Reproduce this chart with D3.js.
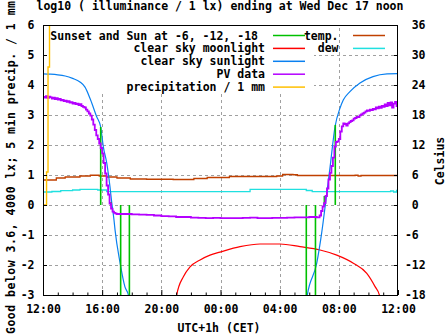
<!DOCTYPE html>
<html>
<head>
<meta charset="utf-8">
<script src="https://cdn.jsdelivr.net/npm/d3@7"></script>
<style>
  html, body { margin: 0; padding: 0; background: #fff; }
  svg { display: block; }
  text { font-family: "DejaVu Sans Mono", monospace; font-weight: bold; font-size: 11.5px; fill: #000; }
</style>
</head>
<body>
<svg id="chart" width="447" height="335"></svg>
<script>
// ---------- data (hours after 12:00 noon) ----------
const hourTicks = [0, 4, 8, 12, 16, 20, 24];
const hourLabels = ["12:00", "16:00", "20:00", "00:00", "04:00", "08:00", "12:00"];
const minorHours = [1,2,3,5,6,7,9,10,11,13,14,15,17,18,19,21,22,23];
const leftTicks = [-3, -2, -1, 0, 1, 2, 3, 4, 5, 6];
const rightTicks = [-18, -12, -6, 0, 6, 12, 18, 24, 30, 36];

// clear sky sunlight, log10 lx
const sunlight = [[0,4.37],[0.5,4.36],[1.0,4.34],[1.5,4.30],[2.0,4.22],[2.5,4.10],[2.84,3.93],[3.22,3.50],[3.63,2.94],[3.90,2.60],[4.08,1.94],[4.31,1.40],[4.53,0.60],[4.65,0.07],[4.80,-0.50],[4.87,-0.83],[5.21,-1.93],[5.54,-2.73],[5.77,-3.0],[5.9,-3.4],
  [17.75,-3.4],[17.87,-3.0],[18.51,-1.93],[18.84,-0.93],[19.13,0.17],[19.41,1.27],[19.74,2.60],[20.08,3.23],[20.30,3.50],[20.75,3.78],[21.43,4.07],[22.31,4.28],[23.26,4.37],[24,4.38]];
const sunlightGap = 5.9; // no value between evening and morning branches

// clear sky moonlight, log10 lx
const moonlight = [[8.95,-3.3],[9.04,-3.0],[9.49,-2.39],[9.94,-2.06],[10.62,-1.83],[11.29,-1.67],[11.97,-1.57],[13.32,-1.39],[14.67,-1.30],[16.02,-1.30],[17.38,-1.39],[18.73,-1.50],[19.86,-1.67],[20.98,-1.94],[21.89,-2.28],[22.45,-2.72],[22.74,-3.0],[22.85,-3.3]];

// PV data, log10 lx
const pvData = [[0.0,3.60],[0.1,3.58],[0.2,3.63],[0.3,3.57],[0.4,3.61],[0.5,3.59],[0.6,3.55],[0.7,3.58],[0.8,3.53],[0.9,3.56],[1.0,3.51],[1.1,3.54],[1.2,3.49],[1.3,3.50],[1.4,3.46],[1.5,3.48],[1.6,3.44],[1.7,3.46],[1.8,3.41],[1.9,3.43],[2.0,3.38],[2.1,3.40],[2.2,3.36],[2.3,3.38],[2.4,3.33],[2.5,3.36],[2.6,3.30],[2.7,3.27],[2.8,3.25],[2.9,3.18],[3.0,3.12],[3.1,3.05],[3.2,2.98],[3.3,2.85],[3.4,2.68],[3.5,2.50],[3.6,2.32],[3.7,2.20],[3.8,2.05],[3.9,1.90],[4.0,1.72],[4.1,1.40],[4.2,1.05],[4.3,0.65],[4.4,0.35],[4.5,0.05],[4.6,-0.12],[4.7,-0.22],[4.8,-0.26],[4.9,-0.29],[5.0,-0.30],[5.5,-0.30],[6.0,-0.31],[6.5,-0.32],[7.0,-0.33],[7.5,-0.35],[8.0,-0.37],[8.5,-0.38],[9.0,-0.40],[9.5,-0.40],[10.0,-0.42],[10.5,-0.43],[11.0,-0.44],[11.5,-0.43],[12.0,-0.44],[12.5,-0.44],[13.0,-0.44],[13.5,-0.43],[14.0,-0.42],[14.5,-0.44],[15.0,-0.44],[15.5,-0.43],[16.0,-0.43],[16.5,-0.42],[17.0,-0.41],[17.5,-0.41],[18.0,-0.40],[18.5,-0.41],
  [18.6,-0.41],[18.7,-0.35],[18.8,-0.20],[18.9,-0.05],[19.0,0.06],[19.1,0.30],[19.2,0.55],[19.3,0.85],[19.4,1.07],[19.5,1.30],[19.6,1.58],[19.7,1.95],[19.8,2.10],[19.9,2.12],[20.0,2.20],[20.1,2.45],[20.2,2.62],[20.3,2.72],[20.4,2.70],[20.5,2.65],[20.6,2.72],[20.7,2.76],[20.8,2.80],[20.9,2.82],[21.0,2.88],[21.1,2.90],[21.2,2.94],[21.3,2.93],[21.4,2.99],[21.5,3.02],[21.6,3.05],[21.7,3.08],[21.8,3.12],[21.9,3.15],[22.0,3.14],[22.1,3.18],[22.2,3.16],[22.3,3.20],[22.4,3.19],[22.5,3.25],[22.6,3.22],[22.7,3.28],[22.8,3.24],[22.9,3.30],[23.0,3.27],[23.1,3.35],[23.2,3.30],[23.3,3.40],[23.4,3.32],[23.5,3.42],[23.6,3.25],[23.7,3.38],[23.8,3.44],[23.9,3.30],[24.0,3.40]];

// precipitation per 5 min, mm
const precip = [[0,0],[0.24,1.1],[0.34,4.6],[0.44,7.0]];

// temperature and dew point, Celsius
const temp = [[0,5.0],[0.9,5.4],[1.5,5.6],[2.5,5.8],[3.2,5.95],[3.8,5.8],[4.3,5.6],[5.0,5.4],[5.9,5.2],[7.0,5.15],[8.8,5.1],[10.2,5.3],[11.1,5.5],[12.6,5.7],[15.8,5.8],[16.2,6.1],[16.9,6.05],[17.2,5.9],[21.1,5.95],[21.3,5.8],[21.5,5.9],[24,5.9]];
const dew = [[0,2.6],[0.6,2.7],[1.2,2.86],[2.0,3.0],[2.5,3.14],[3.7,3.0],[4.3,2.66],[12.0,2.66],[14.0,3.14],[17.5,3.14],[17.8,2.9],[18.2,2.66],[23.3,2.66],[23.5,2.8],[23.7,2.6],[23.9,2.9],[24,2.7]];

// sunset / sunrise and sun at -6, -12, -18 degrees
const sunEvents = [[3.90,2.6],[4.60,0.1],[5.25,-3],[5.84,-3],[17.80,-3],[18.42,-3],[19.02,0.3],[19.76,2.67]];

// ---------- layout ----------
const W = 447, H = 335;
const L = 43, R = 398, T = 25, B = 295;
const COL = { sun: "#00c000", moon: "#ff0000", sky: "#0a80f0", pv: "#b400ff", precip: "#ffc000", temp: "#c04000", dew: "#20e0e0", grid: "#a0a0a0" };

const svg = d3.select("#chart");
svg.append("rect").attr("width", W).attr("height", H).attr("fill", "#fff");

const x = d3.scaleLinear().domain([0, 24]).range([L, R]);
const y = d3.scaleLinear().domain([-3, 6]).range([B, T]);
const yR = d3.scaleLinear().domain([-18, 36]).range([B, T]);

// grid
const grid = svg.append("g").attr("stroke", COL.grid).attr("stroke-width", 1).attr("stroke-dasharray", "3,3").attr("shape-rendering", "crispEdges");
grid.selectAll("line.h").data(leftTicks.filter(d => d > -3 && d < 6)).join("line")
  .attr("x1", L).attr("x2", R).attr("y1", d => Math.round(y(d)) + 0.5).attr("y2", d => Math.round(y(d)) + 0.5);
grid.selectAll("line.v").data(hourTicks.filter(d => d > 0 && d < 24)).join("line")
  .attr("y1", B).attr("y2", T).attr("x1", d => Math.round(x(d)) + 0.5).attr("x2", d => Math.round(x(d)) + 0.5);

// opaque key box (left key block)
svg.append("rect").attr("x", 46).attr("y", 26).attr("width", 268).attr("height", 67).attr("fill", "#fff");

// clip
svg.append("clipPath").attr("id", "plotclip").append("rect").attr("x", L).attr("y", T).attr("width", R - L).attr("height", B - T);
const plot = svg.append("g").attr("clip-path", "url(#plotclip)").attr("fill", "none");

const lineL = d3.line().x(d => x(d[0])).y(d => y(d[1]));
const lineR = d3.line().x(d => x(d[0])).y(d => yR(d[1]));

plot.append("path").datum(temp).attr("d", lineR.curve(d3.curveStepAfter)).attr("stroke", COL.temp).attr("stroke-width", 1.3);
plot.append("path").datum(dew).attr("d", d3.line().x(d => x(d[0])).y(d => yR(d[1])).curve(d3.curveStepAfter)).attr("stroke", COL.dew).attr("stroke-width", 1.3);

plot.append("path").datum(moonlight).attr("d", d3.line().x(d => x(d[0])).y(d => y(d[1])).curve(d3.curveMonotoneX)).attr("stroke", COL.moon).attr("stroke-width", 1.2);

const skyLine = d3.line().defined(d => !(d[0] > sunlightGap && d[0] < 17.7)).x(d => x(d[0])).y(d => y(d[1])).curve(d3.curveMonotoneX);
plot.append("path").datum(sunlight.filter(d => d[0] <= sunlightGap)).attr("d", skyLine).attr("stroke", COL.sky).attr("stroke-width", 1.2);
plot.append("path").datum(sunlight.filter(d => d[0] > sunlightGap)).attr("d", skyLine).attr("stroke", COL.sky).attr("stroke-width", 1.2);

plot.selectAll("line.sun").data(sunEvents).join("line")
  .attr("x1", d => x(d[0])).attr("x2", d => x(d[0]))
  .attr("y1", y(0)).attr("y2", d => y(d[1]))
  .attr("stroke", COL.sun).attr("stroke-width", 1.6);

plot.append("path").datum(pvData).attr("d", d3.line().x(d => x(d[0])).y(d => y(d[1])).curve(d3.curveStepAfter)).attr("stroke", COL.pv).attr("stroke-width", 1.8);

plot.append("path").datum(precip).attr("d", d3.line().x(d => x(d[0])).y(d => y(d[1])).curve(d3.curveStepAfter)).attr("stroke", COL.precip).attr("stroke-width", 1.4);

// border
svg.append("rect").attr("x", L + 0.5).attr("y", T + 0.5).attr("width", R - L - 1).attr("height", B - T)
  .attr("fill", "none").attr("stroke", "#000").attr("stroke-width", 1).attr("shape-rendering", "crispEdges");

// axes
const xAxis = d3.axisBottom(x).tickValues(hourTicks).tickSize(-5).tickPadding(10).tickFormat((d, i) => hourLabels[i]);
const gx = svg.append("g").attr("transform", `translate(0,${B})`).call(xAxis);
gx.select(".domain").remove();
gx.selectAll("text").attr("font-family", null).attr("font-size", null);

const xMinor = d3.axisBottom(x).tickValues(minorHours).tickSize(-2.5).tickFormat("");
const gxm = svg.append("g").attr("transform", `translate(0,${B})`).call(xMinor);
gxm.select(".domain").remove();

const yAxis = d3.axisLeft(y).tickValues(leftTicks).tickSize(-4).tickPadding(8.5).tickFormat(d3.format("d"));
const gy = svg.append("g").attr("transform", `translate(${L},0)`).call(yAxis);
gy.select(".domain").remove();
gy.selectAll("text").attr("font-family", null).attr("font-size", null).text(d => d < 0 ? "-" + Math.abs(d) : d);

const yAxisR = d3.axisRight(yR).tickValues(rightTicks).tickSize(-4).tickFormat(d => d < 0 ? "-" + Math.abs(d) : String(d));
const gyr = svg.append("g").attr("transform", `translate(${R},0)`).call(yAxisR);
gyr.select(".domain").remove();
gyr.selectAll("text").attr("font-family", null).attr("font-size", null).attr("x", d => d < 0 ? 6.9 : 13.7);

// titles
svg.append("text").attr("x", 220).attr("y", 10).attr("text-anchor", "middle")
  .text("log10 ( illuminance / 1 lx) ending at Wed Dec 17 noon");
svg.append("text").attr("x", 219).attr("y", 332).attr("text-anchor", "middle").text("UTC+1h (CET)");
svg.append("text").attr("transform", "translate(15,334) rotate(-90)").attr("text-anchor", "start")
  .attr("textLength", 333).attr("lengthAdjust", "spacing")
  .text("Good below 3.6, 4000 lx; 5 min precip. / 1 mm");
svg.append("text").attr("transform", "translate(443.5,161) rotate(-90)").attr("text-anchor", "middle").text("Celsius");

// legend
const legendLeft = [
  { label: "Sunset and Sun at -6, -12, -18", color: COL.sun, dx: -7 },
  { label: "clear sky moonlight", color: COL.moon, dx: 0 },
  { label: "clear sky sunlight", color: COL.sky, dx: 0 },
  { label: "PV data", color: COL.pv, dx: 0 },
  { label: "precipitation / 1 mm", color: COL.precip, dx: 0 }
];
const legendRight = [
  { label: "temp.", color: COL.temp, dx: 0 },
  { label: "dew", color: COL.dew, dx: 0 }
];
const rowY = i => 35.5 + i * 12.9;
function drawLegend(items, textRight, x1, x2) {
  const g = svg.append("g");
  items.forEach((it, i) => {
    g.append("text").attr("x", textRight + it.dx).attr("y", rowY(i)).attr("dy", "0.35em").attr("text-anchor", "end").text(it.label);
    g.append("line").attr("x1", x1).attr("x2", x2).attr("y1", rowY(i)).attr("y2", rowY(i))
      .attr("stroke", it.color).attr("stroke-width", 1.5);
  });
}
drawLegend(legendLeft, 265, 273, 305);
drawLegend(legendRight, 338.5, 353, 385);
</script>
</body>
</html>
